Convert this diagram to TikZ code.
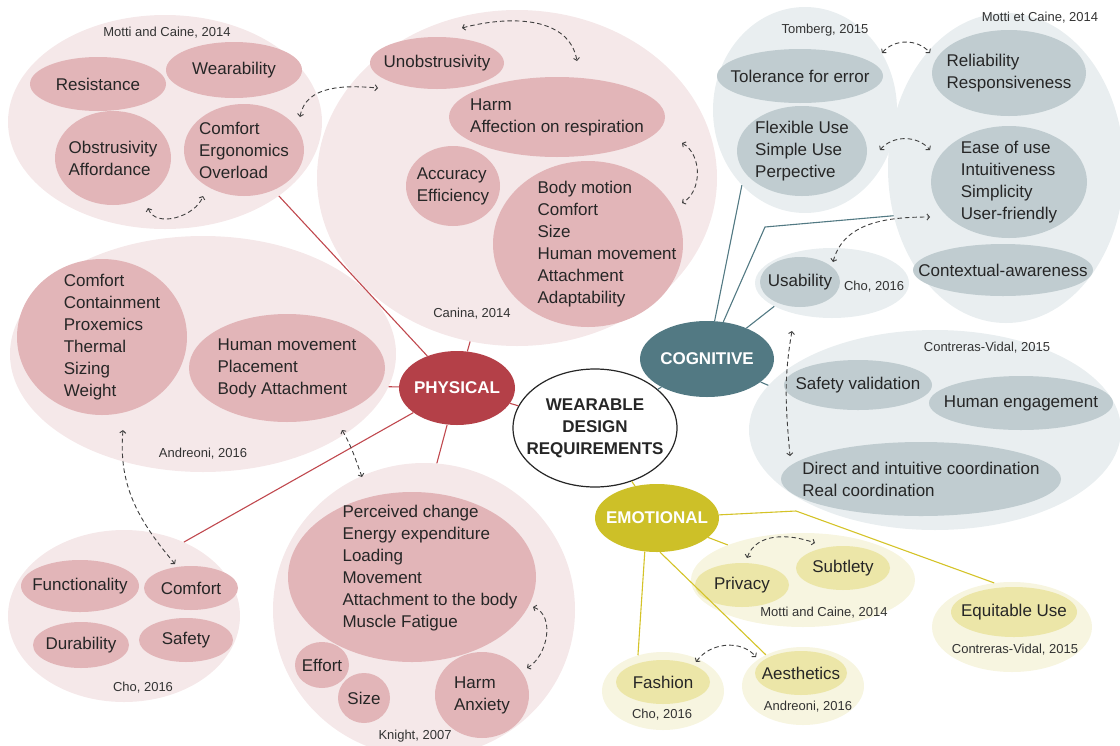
\documentclass[tikz,border=0pt]{standalone}
\usepackage{fontspec}
\setmainfont{Liberation Sans}
\usetikzlibrary{shapes.geometric,arrows.meta}

\definecolor{physdark}{RGB}{180,64,72}
\definecolor{physmid}{RGB}{226,181,184}
\definecolor{physlight}{RGB}{245,232,233}
\definecolor{cogdark}{RGB}{82,121,131}
\definecolor{cogmid}{RGB}{192,204,208}
\definecolor{coglight}{RGB}{233,238,240}
\definecolor{emodark}{RGB}{205,192,40}
\definecolor{emomid}{RGB}{236,230,168}
\definecolor{emolight}{RGB}{247,245,224}
\definecolor{redline}{RGB}{192,72,78}
\definecolor{yelline}{RGB}{212,195,40}

\tikzset{
  sz/.style 2 args={minimum width=#1pt,minimum height=#2pt},
  bub/.style={ellipse,inner sep=0pt},
  txt/.style={align=left,text=black!85,inner sep=0pt,font=\fontsize{17}{22}\selectfont},
  lbl/.style={label={[txt]center:{#1}}},
  ref/.style={text=black!80,inner sep=0pt,font=\fontsize{13}{15}\selectfont},
  cattxt/.style={align=center,text=white,inner sep=0pt,font=\bfseries\fontsize{17}{22}\selectfont},
  phycl/.style={bub,fill=physlight},
  phyit/.style={bub,fill=physmid},
  cogcl/.style={bub,fill=coglight},
  cogit/.style={bub,fill=cogmid},
  emocl/.style={bub,fill=emolight},
  emoit/.style={bub,fill=emomid},
  rline/.style={draw=redline,line width=1.1pt},
  tline/.style={draw=cogdark,line width=1.1pt},
  yline/.style={draw=yelline,line width=1.1pt},
  dlink/.style={draw=black!75,line width=0.9pt,dash pattern=on 4.5pt off 3pt,
    {Straight Barb[length=2.5pt,width=6pt]}-{Straight Barb[length=2.5pt,width=6pt]}}
}

\begin{document}
\begin{tikzpicture}[x=1pt,y=1pt]

\useasboundingbox (0,0) rectangle (1120,-745);

% clusters
\node[phycl,sz={314}{214}] (mcP) at (165,-122) {};
\node[phycl,sz={400}{336}] (canina) at (517,-178) {};
\node[phycl,sz={386}{236}] (andr) at (203,-354) {};
\node[phycl,sz={232}{172}] (choP) at (124,-616) {};
\node[phycl,sz={302}{294}] (knight) at (424,-610) {};
\node[cogcl,sz={184}{206}] (tomb) at (805,-110) {};
\node[cogcl,sz={236}{310}] (mcC) at (1006,-168) {};
\node[cogcl,sz={154}{70}] (choC) at (832,-283) {};
\node[cogcl,sz={372}{200}] (contr) at (935,-430) {};
\node[emocl,sz={224}{94}] (mcE) at (803,-580) {};
\node[emocl,sz={160}{90}] (contrE) at (1012,-627) {};
\node[emocl,sz={122}{78}] (choE) at (663,-691) {};
\node[emocl,sz={122}{78}] (andrE) at (803,-686) {};

% physical items
\node[phyit,sz={136}{54},lbl={Resistance}] (resist) at (98,-84) {};
\node[phyit,sz={136}{56},lbl={Wearability}] (wear) at (234,-70) {};
\node[phyit,sz={116}{94},lbl={Obstrusivity\\Affordance}] (obstr) at (113,-158) {};
\node[phyit,sz={120}{92},lbl={Comfort\\Ergonomics\\Overload}] (comf) at (244,-150) {};
\node[ref] (mcPref) at (167,-33) {Motti and Caine, 2014};

\node[phyit,sz={134}{52},lbl={Unobstrusivity}] (unob) at (437,-63) {};
\node[phyit,sz={216}{80},lbl={Harm\\Affection on respiration}] (harm) at (557,-117) {};
\node[phyit,sz={94}{80},lbl={Accuracy\\Efficiency}] (accu) at (453,-186) {};
\node[phyit,sz={190}{166},label={[txt,xshift=19pt]center:{Body motion\\Comfort\\Size\\Human movement\\Attachment\\Adaptability}}] (body) at (588,-244) {};
\node[ref] (canref) at (472,-314) {Canina, 2014};

\node[phyit,sz={170}{156},label={[txt,xshift=10pt]center:{Comfort\\Containment\\Proxemics\\Thermal\\Sizing\\Weight}}] (andA) at (102,-337) {};
\node[phyit,sz={196}{108},lbl={Human movement\\Placement\\Body Attachment}] (andB) at (287,-368) {};
\node[ref] (andref) at (203,-454) {Andreoni, 2016};

\node[phyit,sz={118}{52},lbl={Functionality}] (func) at (80,-586) {};
\node[phyit,sz={94}{44},lbl={Comfort}] (comf2) at (191,-588) {};
\node[phyit,sz={96}{46},lbl={Durability}] (dura) at (81,-645) {};
\node[phyit,sz={94}{44},lbl={Safety}] (safe) at (186,-640) {};
\node[ref] (choPref) at (143,-688) {Cho, 2016};

\node[phyit,sz={248}{170},label={[txt,xshift=18pt,yshift=9pt]center:{Perceived change\\Energy expenditure\\Loading\\Movement\\Attachment to the body\\Muscle Fatigue}}] (kbig) at (412,-577) {};
\node[phyit,sz={54}{46},lbl={Effort}] (effort) at (322,-665) {};
\node[phyit,sz={52}{50},lbl={Size}] (size) at (364,-698) {};
\node[phyit,sz={94}{86},lbl={Harm\\Anxiety}] (kharm) at (482,-695) {};
\node[ref] (kniref) at (415,-736) {Knight, 2007};

% cognitive items
\node[cogit,sz={166}{54},lbl={Tolerance for error}] (toler) at (800,-76) {};
\node[cogit,sz={130}{90},lbl={Flexible Use\\Simple Use\\Perpective}] (flex) at (802,-151) {};
\node[ref] (tomref) at (825,-30) {Tomberg, 2015};
\node[cogit,sz={154}{86},lbl={Reliability\\Responsiveness}] (relia) at (1009,-73) {};
\node[cogit,sz={156}{112},lbl={Ease of use\\Intuitiveness\\Simplicity\\User-friendly}] (ease) at (1009,-182) {};
\node[cogit,sz={180}{52},lbl={Contextual-awareness}] (context) at (1003,-270) {};
\node[ref] (mcCref) at (1040,-18) {Motti et Caine, 2014};
\node[cogit,sz={80}{50},lbl={Usability}] (usab) at (800,-282) {};
\node[ref] (choCref) at (874,-287) {Cho, 2016};
\node[cogit,sz={148}{50},lbl={Safety validation}] (safev) at (858,-385) {};
\node[cogit,sz={184}{54},lbl={Human engagement}] (engage) at (1021,-403) {};
\node[cogit,sz={280}{74},lbl={Direct and intuitive coordination\\Real coordination}] (direct) at (921,-479) {};
\node[ref] (conref) at (987,-348) {Contreras-Vidal, 2015};

% emotional items
\node[emoit,sz={94}{44},lbl={Privacy}] (priv) at (742,-585) {};
\node[emoit,sz={94}{44},lbl={Subtlety}] (subt) at (843,-568) {};
\node[ref] (mcEref) at (824,-613) {Motti and Caine, 2014};
\node[emoit,sz={126}{50},lbl={Equitable Use}] (equit) at (1014,-612) {};
\node[ref] (conEref) at (1015,-650) {Contreras-Vidal, 2015};
\node[emoit,sz={94}{44},lbl={Fashion}] (fash) at (663,-682) {};
\node[ref] (choEref) at (662,-715) {Cho, 2016};
\node[emoit,sz={92}{44},lbl={Aesthetics}] (aesth) at (801,-673) {};
\node[ref] (andEref) at (808,-707) {Andreoni, 2016};

% main nodes
\node[bub,fill=physdark,sz={116}{74},label={[cattxt]center:PHYSICAL}] (phys) at (457,-388) {};
\node[bub,fill=cogdark,sz={134}{76},label={[cattxt]center:COGNITIVE}] (cog) at (707,-359) {};
\node[bub,fill=emodark,sz={124}{68},label={[cattxt]center:EMOTIONAL}] (emo) at (657,-518) {};
\node[bub,draw=black!85,line width=1.2pt,fill=white,sz={164}{118},
  label={[cattxt,text=black!85]center:{WEARABLE\\DESIGN\\REQUIREMENTS}}] (wdr) at (595,-428) {};

% connectors
\coordinate (cbend) at (765,-227);
\coordinate (ebend) at (796,-511);
\draw[rline] (phys) -- (mcP.-33);
\draw[rline] (phys) -- (canina.-106);
\draw[rline] (phys) -- (andr.-10);
\draw[rline] (phys) -- (choP.51);
\draw[rline] (phys) -- (knight.85);
\draw[rline] (phys) -- (wdr);
\draw[tline] (cog) -- (tomb.-130);
\draw[tline] (cog) -- (cbend) -- (mcC.-157);
\draw[tline] (cog) -- (choC.-158);
\draw[tline] (cog) -- (contr.165);
\draw[tline] (cog) -- (wdr);
\draw[yline] (emo) -- (ebend) -- (contrE.112);
\draw[yline] (emo) -- (mcE.155);
\draw[yline] (emo.-110) -- (choE.125);
\draw[yline] (emo.-85) -- (andrE.140);
\draw[yline] (emo) -- (wdr);

% dashed links
\coordinate (obsA) at (148,-208);  \coordinate (comA) at (203,-196);
\coordinate (comB) at (300,-117);  \coordinate (unoA) at (378,-88);
\coordinate (unoB) at (462,-28);   \coordinate (harA) at (577,-61);
\coordinate (harB) at (682,-143);  \coordinate (bodA) at (682,-203);
\coordinate (andAa) at (123,-430); \coordinate (choA) at (175,-564);
\coordinate (andBa) at (342,-430); \coordinate (kniA) at (362,-477);
\coordinate (kbigA) at (533,-607); \coordinate (khaA) at (527,-668);
\coordinate (tolA) at (882,-53);   \coordinate (relA) at (930,-53);
\coordinate (flxA) at (880,-150);  \coordinate (easA) at (930,-150);
\coordinate (usaA) at (833,-262);  \coordinate (easB) at (930,-217);
\coordinate (usaB) at (792,-331);  \coordinate (dirA) at (790,-456);
\coordinate (priA) at (747,-558);  \coordinate (subA) at (815,-543);
\coordinate (fasA) at (696,-662);  \coordinate (aesA) at (756,-657);
\draw[dlink] (obsA) to[out=-70,in=-110] (comA);
\draw[dlink] (comB) to[out=80,in=175] (unoA);
\draw[dlink] (unoB) to[out=15,in=100] (harA);
\draw[dlink] (harB) to[out=-30,in=30] (bodA);
\draw[dlink] (andAa) to[out=-95,in=130] (choA);
\draw[dlink] (andBa) to[out=-60,in=110] (kniA);
\draw[dlink] (kbigA) to[out=-20,in=30] (khaA);
\draw[dlink] (tolA) to[out=50,in=130] (relA);
\draw[dlink] (flxA) to[out=50,in=130] (easA);
\draw[dlink] (usaA) to[out=75,in=180] (easB);
\draw[dlink] (usaB) to[out=-100,in=95] (dirA);
\draw[dlink] (priA) to[out=70,in=160] (subA);
\draw[dlink] (fasA) to[out=55,in=130] (aesA);
\end{tikzpicture}
\end{document}
